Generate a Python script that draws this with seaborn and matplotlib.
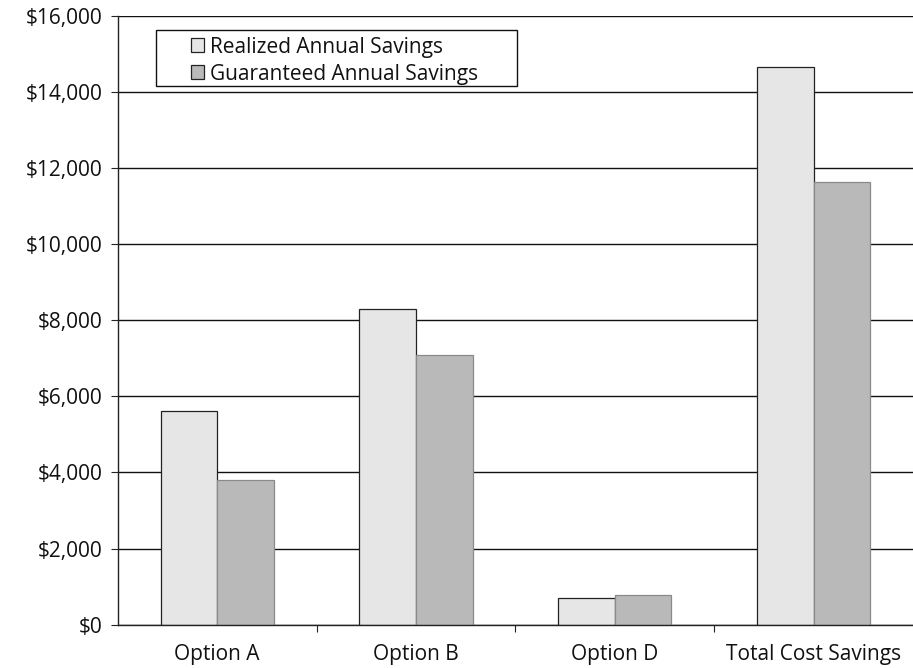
import numpy as np
import matplotlib
matplotlib.use('Agg')
import matplotlib.pyplot as plt
import matplotlib.ticker as mticker
from matplotlib.patches import Rectangle
import pandas as pd
import seaborn as sns

categories = ['Option A', 'Option B', 'Option D', 'Total Cost Savings']
series_names = ['Realized Annual Savings', 'Guaranteed Annual Savings']
realized = [5620, 8300, 700, 14650]
guaranteed = [3800, 7100, 770, 11630]
bar_colors = ['#e6e6e6', '#b9b9b9']

df = pd.DataFrame({
    'category': categories * 2,
    'series': [series_names[0]] * len(categories) + [series_names[1]] * len(categories),
    'value': realized + guaranteed,
})

sns.set_theme(style='white')
plt.rcParams['font.family'] = ['Open Sans', 'DejaVu Sans']

fig = plt.figure(figsize=(9.13, 6.68), dpi=100)
ax = fig.add_axes([0.129, 0.065, 0.871, 0.911])

sns.barplot(data=df, x='category', y='value', hue='series', hue_order=series_names,
            order=categories, palette=bar_colors, width=0.57, ax=ax, legend=True,
            edgecolor='#222222', linewidth=0.9)

# guaranteed bars have softer edges
for patch in ax.containers[1]:
    patch.set_edgecolor('#8a8a8a')

ax.set_ylim(0, 16000)
ax.set_xlim(-0.5, 3.5)
ax.yaxis.set_major_locator(mticker.MultipleLocator(2000))
ax.yaxis.set_major_formatter(mticker.FuncFormatter(lambda v, p: '${:,.0f}'.format(v)))
ax.grid(axis='y', color='#111111', linewidth=1.0)
ax.set_axisbelow(True)

ax.set_xlabel('')
ax.set_ylabel('')
for s in ['top', 'right']:
    ax.spines[s].set_visible(False)
for s in ['left', 'bottom']:
    ax.spines[s].set_color('#222222')
    ax.spines[s].set_linewidth(1.0)

ax.tick_params(axis='y', length=5, width=0.8, color='#222222', left=True,
               labelsize=15, labelcolor='#111111', pad=6)
ax.tick_params(axis='x', length=0, labelsize=15, labelcolor='#111111', pad=14)
ax.set_xticks(np.arange(0.5, 3.5, 1.0), minor=True)
ax.tick_params(axis='x', which='minor', length=5, width=0.8, color='#222222', bottom=True)

# legend box drawn separately so the inner padding can be wider on the left
ax.add_patch(Rectangle((0.048, 0.885), 0.454, 0.092, transform=ax.transAxes,
                       facecolor='white', edgecolor='#111111', linewidth=1.0,
                       zorder=4, clip_on=False))
leg = ax.legend(loc='upper left', bbox_to_anchor=(0.092, 0.966), frameon=False,
                fontsize=15, handlelength=0.65, handleheight=0.65, handletextpad=0.25,
                borderpad=0.0, labelspacing=0.28, borderaxespad=0.0)
leg.set_zorder(5)
for t in leg.get_texts():
    t.set_color('#111111')

fig.savefig('out.png', dpi=100)
